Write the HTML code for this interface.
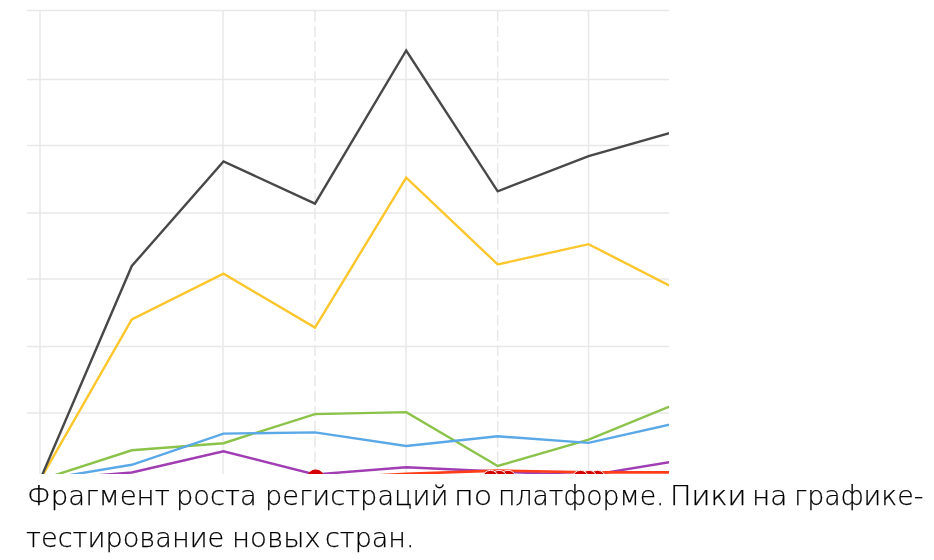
<!DOCTYPE html>
<html lang="ru">
<head>
<meta charset="utf-8">
<title>Фрагмент роста регистраций</title>
<style>
html,body{margin:0;padding:0;background:#fff;}
body{width:934px;height:560px;overflow:hidden;position:relative;}
.chart{position:absolute;left:0;top:0;width:934px;height:474px;overflow:hidden;}
.chart svg{display:block;}
.cap{position:absolute;left:0;top:0;margin:0;width:934px;height:560px;
  font-family:"DejaVu Sans","Liberation Sans",sans-serif;font-weight:200;font-size:27px;line-height:32px;color:#000;white-space:nowrap;will-change:transform;-webkit-font-smoothing:antialiased;-webkit-text-stroke:0.25px #000;}
.cap .ln{display:block;position:absolute;left:0;width:934px;height:32px;}
.cap .ln span{position:absolute;top:0;transform-origin:0 0;}
.cap .l1{top:480px;}
.cap .l2{top:522px;}
</style>
</head>
<body>
<div class="chart">
<svg width="934" height="474" viewBox="0 0 934 474">
  <defs><clipPath id="c"><rect x="0" y="0" width="669" height="474"/></clipPath></defs>
  <g clip-path="url(#c)">
    <g stroke="#e8e8e8" stroke-width="1.4" fill="none">
      <line x1="27" y1="10.5" x2="669" y2="10.5"/>
      <line x1="27" y1="79.5" x2="669" y2="79.5"/>
      <line x1="27" y1="145.5" x2="669" y2="145.5"/>
      <line x1="27" y1="213" x2="669" y2="213"/>
      <line x1="27" y1="279" x2="669" y2="279"/>
      <line x1="27" y1="346.5" x2="669" y2="346.5"/>
      <line x1="27" y1="413" x2="669" y2="413"/>
    </g>
    <g stroke="#e8e8e8" stroke-width="1.5" fill="none">
      <line x1="40" y1="10" x2="40" y2="480"/>
      <line x1="223" y1="10" x2="223" y2="480"/>
      <line x1="406" y1="10" x2="406" y2="480"/>
      <line x1="588.5" y1="10" x2="588.5" y2="480"/>
      <line x1="315" y1="10.7" x2="315" y2="480" stroke-dasharray="11 4.2"/>
      <line x1="497.7" y1="10.7" x2="497.7" y2="480" stroke-dasharray="11 4.2"/>
    </g>
    <g fill="none" stroke-width="2.4" stroke-linejoin="miter">
      <polyline stroke="#a03db3" points="40,480 131.8,472.5 223.5,451.3 315,474.5 406.2,467.2 497.7,471.5 588.6,475.5 680,460.5"/>
    </g>
    <circle cx="315.7" cy="478" r="8.5" fill="#d40000"/>
    
    <g fill="none" stroke-width="2.4" stroke-linejoin="miter">
      <polyline stroke="#ff3d1a" stroke-width="2.6" points="315,478.8 406.2,473.8 497.7,470.6 588.6,472.4 680,472.4"/>
      <polyline stroke="#8bc34a" points="40,480 131.8,450.3 223.5,443.2 315,414.1 406.2,412.1 497.7,466 588.6,439.7 680,402.3"/>
      <polyline stroke="#5aa8e6" points="40,480 131.8,464.8 223.5,433.6 315,432.4 406.2,446 497.7,436.3 588.6,442.9 680,422.2"/>
      <polyline stroke="#fcc62c" points="40,480 131.8,319.4 223.5,273.6 315,327.6 406.2,177.7 497.7,264.4 588.6,244.2 680,290.9"/>
      <polyline stroke="#484848" points="40,480 131.8,266 223.5,161.4 315,203.7 406.2,50.5 497.7,191.3 588.6,156.1 680,130.1"/>
    </g>
    <g fill="#d40000" stroke="#fff" stroke-width="0.9">
      <circle cx="508" cy="478.3" r="8"/>
      <circle cx="499" cy="478.3" r="8"/>
      <circle cx="490.5" cy="478.3" r="8"/>
      <circle cx="597.5" cy="478.3" r="8"/>
      <circle cx="589" cy="478.3" r="8"/>
      <circle cx="580.5" cy="478.3" r="8"/>
    </g>
  </g>
</svg>
</div>
<p class="cap">
<span class="ln l1"><span style="left:26.9px;transform:scaleX(1.023)">Фрагмент</span> <span style="left:175.5px;transform:scaleX(1.012)">роста</span> <span style="left:265.0px;transform:scaleX(1.007)">регистраций</span> <span style="left:454.1px;transform:scaleX(1.117)">по</span> <span style="left:497.5px;transform:scaleX(0.988)">платформе.</span> <span style="left:669.7px;transform:scaleX(1.062)">Пики</span> <span style="left:751.9px;transform:scaleX(1.034)">на</span> <span style="left:793.6px;transform:scaleX(0.994)">графике-</span></span>
<span class="ln l2"><span style="left:26.0px;transform:scaleX(1.007)">тестирование</span> <span style="left:231.6px;transform:scaleX(1.024)">новых</span> <span style="left:325.4px;transform:scaleX(0.999)">стран.</span></span>
</p>
</body>
</html>
